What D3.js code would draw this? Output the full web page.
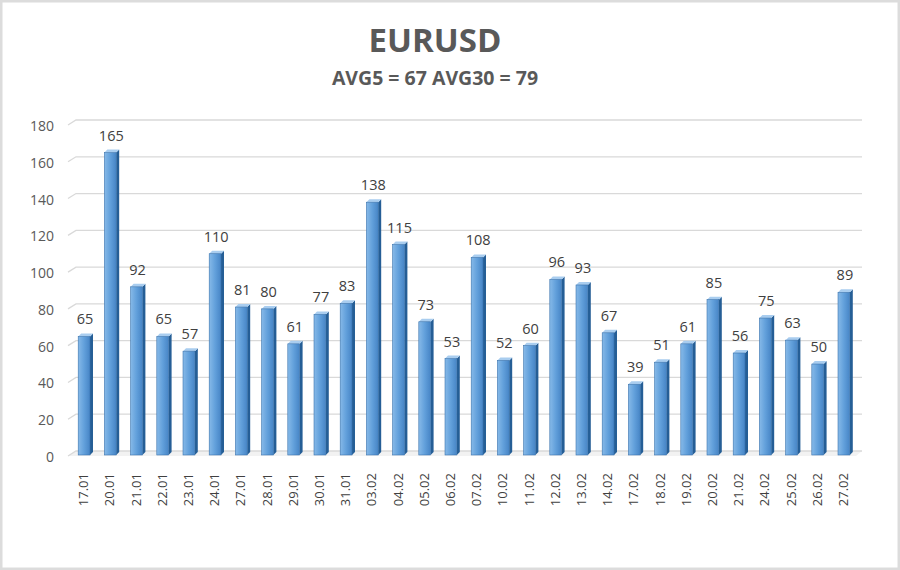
<!DOCTYPE html>
<html><head><meta charset="utf-8">
<script src="https://cdn.jsdelivr.net/npm/d3@7"></script>
<style>body{margin:0;background:#fff}svg{display:block}</style>
</head><body><svg id="c" width="900" height="570"></svg>
<script>
const dates = ["17.01","20.01","21.01","22.01","23.01","24.01","27.01","28.01","29.01","30.01","31.01","03.02","04.02","05.02","06.02","07.02","10.02","11.02","12.02","13.02","14.02","17.02","18.02","19.02","20.02","21.02","24.02","25.02","26.02","27.02"];
const values = [65,165,92,65,57,110,81,80,61,77,83,138,115,73,53,108,52,60,96,93,67,39,51,61,85,56,75,63,50,89];
const yTicks = [0,20,40,60,80,100,120,140,160,180];
const title = "EURUSD";
const subtitle = "AVG5 = 67 AVG30 = 79";

const svg = d3.select("#c");
const W = 900, H = 570;
const font = "'Open Sans', 'Noto Sans', sans-serif";
svg.append("rect").attr("x",1).attr("y",1).attr("width",W-2).attr("height",H-2)
  .attr("fill","#fff").attr("stroke","#dcdcdc").attr("stroke-width",3);

const defs = svg.append("defs");
const g1 = defs.append("linearGradient").attr("id","front").attr("x1","0").attr("x2","1").attr("y1","0").attr("y2","0");
g1.append("stop").attr("offset","0").attr("stop-color","#86b9e8");
g1.append("stop").attr("offset","0.5").attr("stop-color","#62a0db");
g1.append("stop").attr("offset","1").attr("stop-color","#4785c6");

const y = d3.scaleLinear().domain([0,180]).range([456,125]);
const x = d3.scaleBand().domain(dates).range([71,857]).paddingInner(0.55).paddingOuter(0.275);
const dx = 8, dy = -5;   // depth of back wall
const bdx = 3, bdy = -3; // bar depth

// floor
svg.append("path").attr("d",`M68,${y(0)}L${68+dx},${y(0)+dy}L862,${y(0)+dy}L856,${y(0)}Z`)
  .attr("fill","#f2f2f2");
// gridlines
const grid = svg.append("g");
yTicks.forEach(t => {
  const yy = y(t);
  grid.append("path").attr("d", `M68,${yy}L${68+dx},${yy+dy}L862,${yy+dy}`)
    .attr("fill","none").attr("stroke","#d9d9d9").attr("stroke-width",1.3);
});
// y axis labels
const yAxis = d3.axisLeft(y).tickValues(yTicks).tickSize(0).tickPadding(0);
const ya = svg.append("g").attr("transform","translate(54,1)").call(yAxis);
ya.select(".domain").remove();
ya.selectAll("text").attr("font-family",font).attr("font-size",14).attr("fill","#595959");

// bars
const bars = svg.append("g").selectAll("g").data(values).enter().append("g");
bars.each(function(v,i){
  const g = d3.select(this);
  const x0 = x(dates[i]), w = x.bandwidth();
  const yt = y(v), yb = y(0) - 1;
  g.append("path").attr("d",`M${x0+w},${yt}L${x0+w+bdx},${yt+bdy}L${x0+w+bdx},${yb+bdy}L${x0+w},${yb}Z`)
    .attr("fill","#255e96");
  g.append("path").attr("d",`M${x0},${yt}L${x0+bdx},${yt+bdy}L${x0+w+bdx},${yt+bdy}L${x0+w},${yt}Z`)
    .attr("fill","#a9cdef");
  g.append("rect").attr("x",x0).attr("y",yt).attr("width",w).attr("height",yb-yt)
    .attr("fill","url(#front)").attr("stroke","#3a73ad").attr("stroke-width",0.6);
  g.append("text").attr("x",x0+w/2+1).attr("y",yt-12).attr("text-anchor","middle")
    .attr("font-family",font).attr("font-size",14.5).attr("fill","#404040").text(v);
});

// x axis labels
const xa = svg.append("g");
dates.forEach(d => {
  xa.append("text").attr("transform",`translate(${x(d)+x.bandwidth()/2+4},473) rotate(-90)`)
    .attr("text-anchor","end").attr("font-family",font).attr("font-size",13).attr("fill","#404040").text(d);
});

// titles
svg.append("text").attr("x",435).attr("y",52).attr("text-anchor","middle")
  .attr("font-family",font).attr("font-weight","bold").attr("font-size",33).attr("fill","#595959").text(title);
svg.append("text").attr("x",435).attr("y",85).attr("text-anchor","middle")
  .attr("font-family",font).attr("font-weight","bold").attr("font-size",19.5).attr("fill","#595959").text(subtitle);
</script></body></html>
